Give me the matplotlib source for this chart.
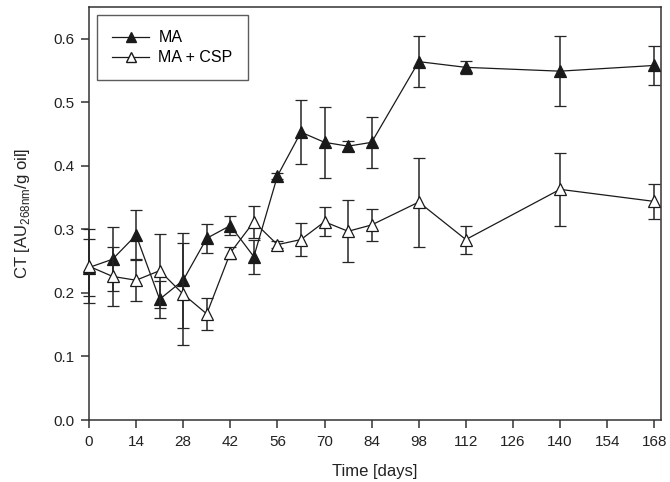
import matplotlib
matplotlib.use("Agg")
import matplotlib.pyplot as plt
from matplotlib.lines import Line2D

plt.rcParams['font.family'] = ['Liberation Sans', 'DejaVu Sans']

days = [0, 7, 14, 21, 28, 35, 42, 49, 56, 63, 70, 77, 84, 98, 112, 140, 168]

ma_mean = [0.240, 0.253, 0.291, 0.190, 0.220, 0.286, 0.306, 0.257, 0.384,
           0.453, 0.437, 0.431, 0.437, 0.564, 0.555, 0.549, 0.558]
ma_err = [0.045, 0.050, 0.039, 0.029, 0.075, 0.023, 0.015, 0.027, 0.005,
          0.050, 0.056, 0.008, 0.040, 0.040, 0.010, 0.055, 0.031]

csp_mean = [0.242, 0.226, 0.220, 0.235, 0.198, 0.167, 0.263, 0.312, 0.276,
            0.284, 0.312, 0.297, 0.307, 0.343, 0.284, 0.363, 0.344]
csp_err = [0.058, 0.046, 0.033, 0.058, 0.080, 0.025, 0.010, 0.025, 0.005,
           0.026, 0.023, 0.049, 0.025, 0.070, 0.022, 0.057, 0.027]

x_ticks = [0, 14, 28, 42, 56, 70, 84, 98, 112, 126, 140, 154, 168]
y_ticks = [0.0, 0.1, 0.2, 0.3, 0.4, 0.5, 0.6]

ink = '#1a1a1a'
axis_col = '#333333'
text_col = '#222222'

fig = plt.figure(figsize=(6.7, 4.82), dpi=100)
ax = fig.add_axes([0.1328, 0.1286, 0.8538, 0.8569])

common = dict(color=ink, lw=0.9, ms=8, capsize=4.3, elinewidth=1.1,
              capthick=1.1, ecolor='#262626', mec=ink, mew=0.9)

e1 = ax.errorbar(days, ma_mean, yerr=ma_err, marker='^', mfc=ink,
                 zorder=3, **common)
e2 = ax.errorbar(days, csp_mean, yerr=csp_err, marker='^', mfc='white',
                 zorder=4, **common)
for e in (e1, e2):
    e.lines[0].set_clip_on(False)
    for art in e.lines[1] + e.lines[2]:
        art.set_clip_on(False)

ax.set_xlim(0, 170)
ax.set_ylim(0, 0.65)
ax.set_xticks(x_ticks)
ax.set_xticklabels([str(t) for t in x_ticks])
ax.set_yticks(y_ticks)
ax.set_yticklabels([f'{t:.1f}' for t in y_ticks])

for s in ax.spines.values():
    s.set_color(axis_col)
    s.set_linewidth(1.1)
ax.tick_params(direction='out', length=5.5, width=1.1, color=axis_col,
               labelsize=11, labelcolor=text_col, pad=5)

ax.set_xlabel('Time [days]', fontsize=12, color=text_col, labelpad=11)
ax.set_ylabel('CT [AU$_{\\mathregular{268nm}}$/g oil]', fontsize=12,
              color=text_col, labelpad=15)

handles = [
    Line2D([], [], color=ink, lw=0.9, marker='^', ms=6.5, mfc=ink, mec=ink),
    Line2D([], [], color=ink, lw=0.9, marker='^', ms=6.5, mfc='white', mec=ink),
]
leg = ax.legend(handles, ['MA', 'MA + CSP'], loc='upper left', fontsize=11.5,
                frameon=True, fancybox=False, borderaxespad=0.5,
                handlelength=2.3, handletextpad=0.6, borderpad=0.95,
                labelspacing=0.32)
leg.get_frame().set_edgecolor(axis_col)
leg.get_frame().set_linewidth(1.0)

fig.savefig('out.png', dpi=100)
